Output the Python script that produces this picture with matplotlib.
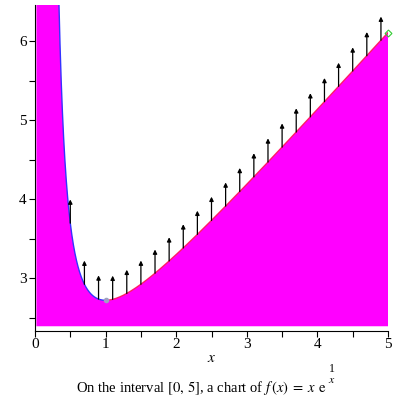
import numpy as np
import matplotlib
matplotlib.use("Agg")
import matplotlib.pyplot as plt

plt.rcParams['font.family'] = ['Liberation Serif', 'DejaVu Serif']
plt.rcParams['mathtext.fontset'] = 'stix'

# Function plotted: f(x) = x * e^(1/x) on [0, 5]
x_left = np.linspace(0.02, 1.0, 400)
x_right = np.linspace(1.0, 5.0, 400)
arrow_x = [0.5, 0.7, 0.9, 1.1, 1.3, 1.5, 1.7, 1.9, 2.1, 2.3, 2.5, 2.7, 2.9,
           3.1, 3.3, 3.5, 3.7, 3.9, 4.1, 4.3, 4.5, 4.7, 4.9]
arrow_len = 0.3
fill_floor = 2.39
x_ticks = [0, 1, 2, 3, 4, 5]
y_ticks = [3, 4, 5, 6]

def f(x):
    x = np.asarray(x, dtype=float)
    return x * np.exp(1.0 / x)

fig = plt.figure(figsize=(4, 4), dpi=100)
ax = fig.add_axes([0.0875, 0.1725, 0.8825, 0.815])

xs = np.concatenate([x_left, x_right[1:]])
ys = np.minimum(f(xs), 50)
ax.fill_between(xs, fill_floor, ys, color='#ff00ff', lw=0, zorder=1)
ax.plot(x_left, np.minimum(f(x_left), 50), color='#3333ff', lw=1.0, zorder=2)
ax.plot(x_right, f(x_right), color='#ff1a66', lw=1.0, zorder=2)

for xa in arrow_x:
    y0 = float(f(xa))
    ax.annotate('', xy=(xa, y0 + arrow_len), xytext=(xa, y0),
                arrowprops=dict(arrowstyle='-|>', color='black', lw=0.9,
                                mutation_scale=6, shrinkA=0, shrinkB=0),
                zorder=3)

ax.plot([1.0], [float(f(1.0))], marker='o', ms=3, color='#a0a0c0', zorder=4)
ax.plot([5.0], [float(f(5.0))], marker='D', ms=3.5, mfc='none', mec='#33cc33',
        mew=0.8, zorder=4, clip_on=False)

ax.set_xlim(0, 5)
ax.set_ylim(2.33, 6.456)
ax.spines['top'].set_visible(False)
ax.spines['right'].set_visible(False)
ax.set_xticks(x_ticks)
ax.set_xticks([0.5, 1.5, 2.5, 3.5, 4.5], minor=True)
ax.set_yticks(y_ticks)
ax.set_yticks([2.5, 3.5, 4.5, 5.5], minor=True)
ax.tick_params(axis='both', which='both', direction='out', length=4, width=0.8,
               labelsize=11)
ax.tick_params(axis='y', pad=2)
ax.tick_params(axis='x', pad=1)

ax.set_xlabel('$x$', fontsize=11, labelpad=1)

base = 0.02
main = fig.text(0.19, base,
                r'On the interval $[0,\,5]$, a chart of $f\,(x)\; = \;x\;\,\mathrm{e}$',
                ha='left', va='baseline', fontsize=10.5)
fig.canvas.draw()
bb = main.get_window_extent(renderer=fig.canvas.get_renderer())
xr = (bb.x1 + 5) / 400.0
fig.text(xr, 0.071, '1', ha='center', va='baseline', fontsize=8.5)
fig.text(xr, 0.0425, '$x$', ha='center', va='baseline', fontsize=8.5)

fig.savefig('out.png', dpi=100)
